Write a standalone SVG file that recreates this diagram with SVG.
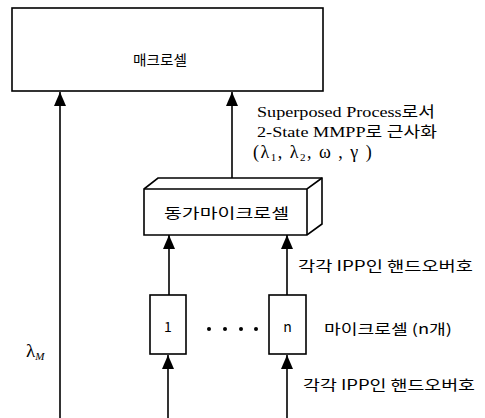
<svg xmlns="http://www.w3.org/2000/svg" width="485" height="418" viewBox="0 0 485 418">
<style>
.box{fill:#fff;stroke:#000;stroke-width:1.6}
.ln{fill:none;stroke:#000;stroke-width:1.6}
.kr{font-family:"Noto Sans CJK KR","Noto Sans",sans-serif;font-size:14px;fill:#000}
.sf{font-family:"Liberation Serif","Noto Sans CJK KR",serif;font-size:15px;fill:#000}
.gr{font-family:"Liberation Serif",serif;fill:#000}
</style>
<defs>
<marker id="ah" markerUnits="userSpaceOnUse" markerWidth="14" markerHeight="12" refX="14" refY="6" orient="auto">
<path d="M0,0 L14,6 L0,12 Z" fill="#000"/>
</marker>
</defs>
<rect width="485" height="418" fill="#fff"/>
<g id="connectors">
<line class="ln" x1="60" y1="418" x2="60" y2="92" marker-end="url(#ah)"/>
<line class="ln" x1="232" y1="178" x2="232" y2="92" marker-end="url(#ah)"/>
<line class="ln" x1="169" y1="295" x2="169" y2="235" marker-end="url(#ah)"/>
<line class="ln" x1="287" y1="295" x2="287" y2="235" marker-end="url(#ah)"/>
<line class="ln" x1="168" y1="418" x2="168" y2="355" marker-end="url(#ah)"/>
<line class="ln" x1="287" y1="418" x2="287" y2="355" marker-end="url(#ah)"/>
</g>
<g id="macrocell">
<rect class="box" x="12" y="8" width="311" height="83"/>
<text class="kr" x="160" y="65" text-anchor="middle" textLength="54" lengthAdjust="spacingAndGlyphs">매크로셀</text>
</g>
<g id="equiv-microcell">
<path class="box" d="M144,189 L158,178 L322,178 L322,224 L307,235 L144,235 Z"/>
<path class="ln" d="M144,189 L307,189 L322,178 M307,189 L307,235"/>
<text class="kr" x="164" y="218" font-size="15" textLength="125" lengthAdjust="spacingAndGlyphs">동가마이크로셀</text>
</g>
<g id="microcell-1">
<rect class="box" x="150" y="295" width="36" height="59"/>
<text class="kr" x="168" y="332" text-anchor="middle" font-size="12">1</text>
</g>
<g id="dots">
<circle cx="209" cy="329" r="2"/>
<circle cx="225" cy="329" r="2"/>
<circle cx="241" cy="329" r="2"/>
<circle cx="256" cy="329" r="2"/>
</g>
<g id="microcell-n">
<rect class="box" x="269" y="295" width="37" height="59"/>
<text class="kr" x="287.5" y="332" text-anchor="middle" font-size="12">n</text>
</g>
<g id="labels">
<text class="sf" x="257" y="117" textLength="178" lengthAdjust="spacingAndGlyphs">Superposed Process로서</text>
<text class="sf" x="257" y="137" textLength="180" lengthAdjust="spacingAndGlyphs">2-State MMPP로 근사화</text>
<text class="gr" x="253" y="158" font-size="18" letter-spacing="1.5">(λ<tspan font-size="11" dy="3">1</tspan><tspan dy="-3">, λ</tspan><tspan font-size="11" dy="3">2</tspan><tspan dy="-3">, ω , γ )</tspan></text>
<text class="kr" x="298" y="271" textLength="175" lengthAdjust="spacingAndGlyphs">각각 IPP인 핸드오버호</text>
<text class="kr" x="324" y="334" textLength="128" lengthAdjust="spacingAndGlyphs">마이크로셀 (n개)</text>
<text class="kr" x="303" y="390" textLength="172" lengthAdjust="spacingAndGlyphs">각각 IPP인 핸드오버호</text>
<text class="gr" x="26" y="357" font-size="19">λ<tspan font-size="11" font-style="italic" dy="3">M</tspan></text>
</g>
</svg>
